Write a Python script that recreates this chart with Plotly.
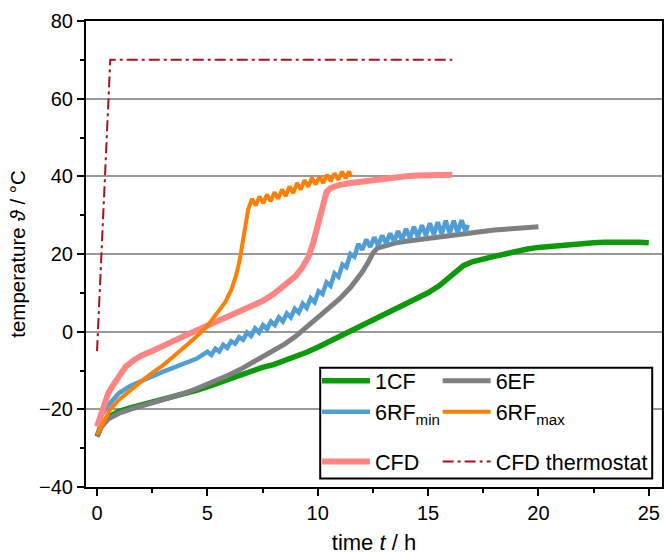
import plotly.graph_objects as go

# --- measured heating curves: time t / h and temperature / °C ---
t_1cf = [0, 0.2, 0.5, 1.0, 1.5, 2.0, 2.5, 3.0, 3.5, 4.0, 4.5, 5.0, 5.5, 6.0, 6.5, 7.0,
         7.5, 8.0, 8.5, 9.0, 9.5, 10.0, 10.5, 11.0, 11.5, 12.0, 12.5, 13.0, 13.5, 14.0,
         14.5, 15.0, 15.5, 16.0, 16.3, 16.6, 17.0, 17.5, 18.0, 18.5, 19.0, 19.5, 20.0,
         20.5, 21.0, 21.5, 22.0, 22.5, 23.0, 23.5, 24.0, 24.5, 25.0]
T_1cf = [-27, -24, -22, -20.5, -19.6, -18.9, -18.2, -17.5, -16.7, -16.0, -15.1, -14.2,
         -13.2, -12.1, -11.0, -9.9, -9.2, -8.5, -7.5, -6.4, -5.3, -4.0, -2.6, -1.1, 0.4,
         1.8, 3.1, 4.4, 5.8, 7.2, 8.5, 10.0, 11.8, 14.0, 15.6, 17.0, 18.0, 18.8, 19.4,
         20.0, 20.8, 21.3, 21.7, 22.0, 22.3, 22.5, 22.7, 22.9, 23.0, 23.1, 23.0, 23.0, 22.9]

t_6ef = [0, 0.2, 0.5, 1.0, 1.5, 2.0, 2.5, 3.0, 3.5, 4.0, 4.5, 5.0, 5.5, 6.0, 6.5, 7.0,
         7.5, 8.0, 8.5, 9.0, 9.5, 10.0, 10.5, 11.0, 11.5, 12.0, 12.3, 12.5, 12.7, 13.0,
         13.5, 14.0, 14.5, 15.0, 15.5, 16.0, 16.5, 17.0, 17.5, 18.0, 18.5, 19.0, 19.5, 20.0]
T_6ef = [-27, -24.5, -22.5, -21, -20, -19.2, -18.4, -17.6, -16.7, -15.8, -14.7, -13.6,
         -12.4, -11.1, -9.7, -8.1, -6.6, -5.0, -3.2, -1.2, 1.2, 3.3, 5.7, 8.5, 11.5, 15.2,
         18.0, 20.2, 21.5, 22.0, 22.8, 23.3, 23.7, 24.1, 24.5, 24.9, 25.2, 25.6, 25.9,
         26.2, 26.4, 26.6, 26.8, 27.0]

t_6rf_min = [0, 0.2, 0.5, 1.0, 1.5, 2.0, 2.5, 3.0, 3.5, 4.0, 4.5,
             5.00, 5.18, 5.36, 5.54, 5.72, 5.90, 6.08, 6.26, 6.44, 6.62, 6.80, 6.98,
             7.16, 7.34, 7.52, 7.70, 7.88, 8.06, 8.24, 8.42, 8.60, 8.78, 8.96, 9.14,
             9.32, 9.50, 9.68, 9.86, 10.04, 10.22, 10.40, 10.58, 10.76, 10.94, 11.12,
             11.30, 11.48, 11.66, 11.84, 12.02, 12.20, 12.38, 12.56, 12.74, 12.92,
             13.10, 13.28, 13.46, 13.64, 13.82, 14.00, 14.18, 14.36, 14.54, 14.72,
             14.90, 15.08, 15.26, 15.44, 15.62, 15.80, 15.98, 16.16, 16.34, 16.52,
             16.70, 16.80]
T_6rf_min = [-24.4, -21.5, -19, -15.8, -14, -12.7, -11.5, -10.3, -9.2, -8.1, -7.0,
             -5.2, -6.0, -4.4, -5.1, -3.4, -4.2, -2.5, -3.1, -1.4, -2.1, -0.2, -1.1,
             0.8, -0.2, 1.7, 0.7, 2.6, 1.7, 3.7, 2.6, 4.7, 3.7, 5.9, 4.9,
             7.2, 6.1, 8.6, 7.6, 10.4, 9.7, 12.7, 11.8, 15.0, 14.1, 17.3,
             16.6, 20.0, 19.3, 22.6, 21.1, 23.7, 21.8, 24.3, 22.2, 24.8,
             22.7, 25.3, 23.2, 25.9, 23.6, 26.5, 24.1, 27.0, 24.4, 27.4,
             24.8, 27.9, 25.0, 28.2, 25.2, 28.6, 25.3, 28.6, 25.5, 28.7,
             25.7, 27.5]

t_6rf_max = [0, 0.3, 0.6, 1.0, 1.5, 2.0, 2.5, 3.0, 3.5, 4.0, 4.5, 5.0, 5.5, 5.8, 6.1,
             6.3, 6.45, 6.55, 6.65, 6.75, 6.85,
             7.02, 7.19, 7.36, 7.53, 7.70, 7.87, 8.04, 8.21, 8.38, 8.55, 8.72, 8.89,
             9.06, 9.23, 9.40, 9.57, 9.74, 9.91, 10.08, 10.25, 10.42, 10.59, 10.76,
             10.93, 11.10, 11.27, 11.42, 11.50]
T_6rf_max = [-26.5, -23, -20, -17.5, -15, -12.8, -10.6, -8.6, -6.2, -3.8, -1.3, 1.5,
             5.0, 7.5, 11.0, 14.5, 18.0, 21.5, 25.5, 29.0, 31.5,
             34.2, 32.5, 34.8, 33.1, 35.3, 33.6, 35.9, 34.2, 36.6, 34.9, 37.4, 35.7,
             38.3, 36.6, 39.0, 37.3, 39.6, 37.9, 40.0, 38.3, 40.4, 38.7, 40.8,
             39.1, 41.2, 39.5, 41.3, 40.0]

t_cfd = [0, 0.15, 0.3, 0.5, 0.7, 1.0, 1.3, 1.7, 2.0, 2.5, 3.0, 3.5, 4.0, 4.5, 5.0,
         5.5, 6.0, 6.5, 7.0, 7.5, 8.0, 8.5, 9.0, 9.3, 9.6, 9.8, 9.95, 10.1, 10.25,
         10.4, 10.6, 11.0, 11.5, 12.0, 12.5, 13.0, 13.5, 14.0, 14.5, 15.0, 15.5, 16.1]
T_cfd = [-24.4, -22, -19, -16, -14, -11.2, -9, -7.2, -6.2, -5.0, -3.5, -2.3, -1.0,
         0.2, 1.4, 2.6, 3.8, 5.2, 6.6, 7.9, 9.7, 12.0, 14.3, 16.5, 19.5, 23.0, 26.5,
         30.5, 34.0, 36.0, 37.0, 37.8, 38.3, 38.7, 39.1, 39.5, 39.8, 40.0, 40.2, 40.3,
         40.4, 40.4]

t_thermostat = [0, 0.6, 16.1]
T_thermostat = [-5, 70, 70]

FONT = "Liberation Sans, Arial, sans-serif"

fig = go.Figure()

# (name, t, T, colour, width, legend, group) in drawing order
series = [
    ("1CF", t_1cf, T_1cf, "#0a9a0a", 5.5, "legend", "row12_left"),
    ("6EF", t_6ef, T_6ef, "#7f7f7f", 5, "legend2", "row12_right"),
    ("6RF<sub>min</sub>", t_6rf_min, T_6rf_min, "#4f9fd6", 4.5, "legend", "row12_left"),
    ("CFD", t_cfd, T_cfd, "#ff8585", 6, "legend", "row3_left"),
    ("6RF<sub>max</sub>", t_6rf_max, T_6rf_max, "#ff7f00", 4, "legend2", "row12_right"),
]
for name, tx, ty, col, w, leg, grp in series:
    fig.add_trace(go.Scatter(
        x=tx, y=ty, mode="lines", name=name,
        line=dict(color=col, width=w),
        legend=leg, legendgroup=grp,
    ))

fig.add_trace(go.Scatter(
    x=t_thermostat, y=T_thermostat, mode="lines", name="CFD thermostat",
    line=dict(color="#a8101a", width=2, dash="11px,4px,3px,4px"),
    legend="legend2", legendgroup="row3_right",
))

# white legend box with black frame
fig.add_shape(type="rect", xref="paper", yref="paper",
              x0=0.4066, x1=0.983, y0=0.018, y1=0.256,
              line=dict(color="black", width=2), fillcolor="white", layer="above")

legend_common = dict(
    orientation="v", bgcolor="rgba(0,0,0,0)", borderwidth=0,
    font=dict(family=FONT, size=21.5, color="black"),
    xanchor="left", yanchor="top", itemwidth=48,
    tracegroupgap=19, traceorder="grouped",
)

fig.update_layout(
    width=665, height=555,
    margin=dict(l=86, r=1, t=21, b=68),
    paper_bgcolor="white", plot_bgcolor="white",
    font=dict(family=FONT, color="black"),
    legend=dict(x=0.401, y=0.272, **legend_common),
    legend2=dict(x=0.6105, y=0.272, **legend_common),
    xaxis=dict(
        range=[-0.5, 25.6], tickvals=[0, 5, 10, 15, 20, 25],
        showline=True, mirror=True, linecolor="black", linewidth=2,
        ticks="outside", ticklen=7, tickwidth=2, tickcolor="black",
        minor=dict(ticks="outside", ticklen=4, tickwidth=2, dtick=2.5, tick0=0,
                   tickcolor="black", showgrid=False),
        showgrid=False, zeroline=False,
        tickfont=dict(family=FONT, size=20, color="black"),
        title=dict(text="time <i>t</i> / h", font=dict(family=FONT, size=22, color="black"),
                   standoff=13),
    ),
    yaxis=dict(
        range=[-40, 80], tickvals=[-40, -20, 0, 20, 40, 60, 80],
        showline=True, mirror=True, linecolor="black", linewidth=2,
        ticks="outside", ticklen=7, tickwidth=2, tickcolor="black",
        minor=dict(ticks="outside", ticklen=4, tickwidth=2, dtick=10, tick0=0,
                   tickcolor="black", showgrid=False),
        showgrid=True, gridcolor="#999999", gridwidth=1.5, zeroline=False,
        tickfont=dict(family=FONT, size=20, color="black"),
        title=dict(text="temperature <i>ϑ</i> / °C",
                   font=dict(family=FONT, size=20.5, color="black"), standoff=8),
    ),
)

fig.write_html("out.html")
